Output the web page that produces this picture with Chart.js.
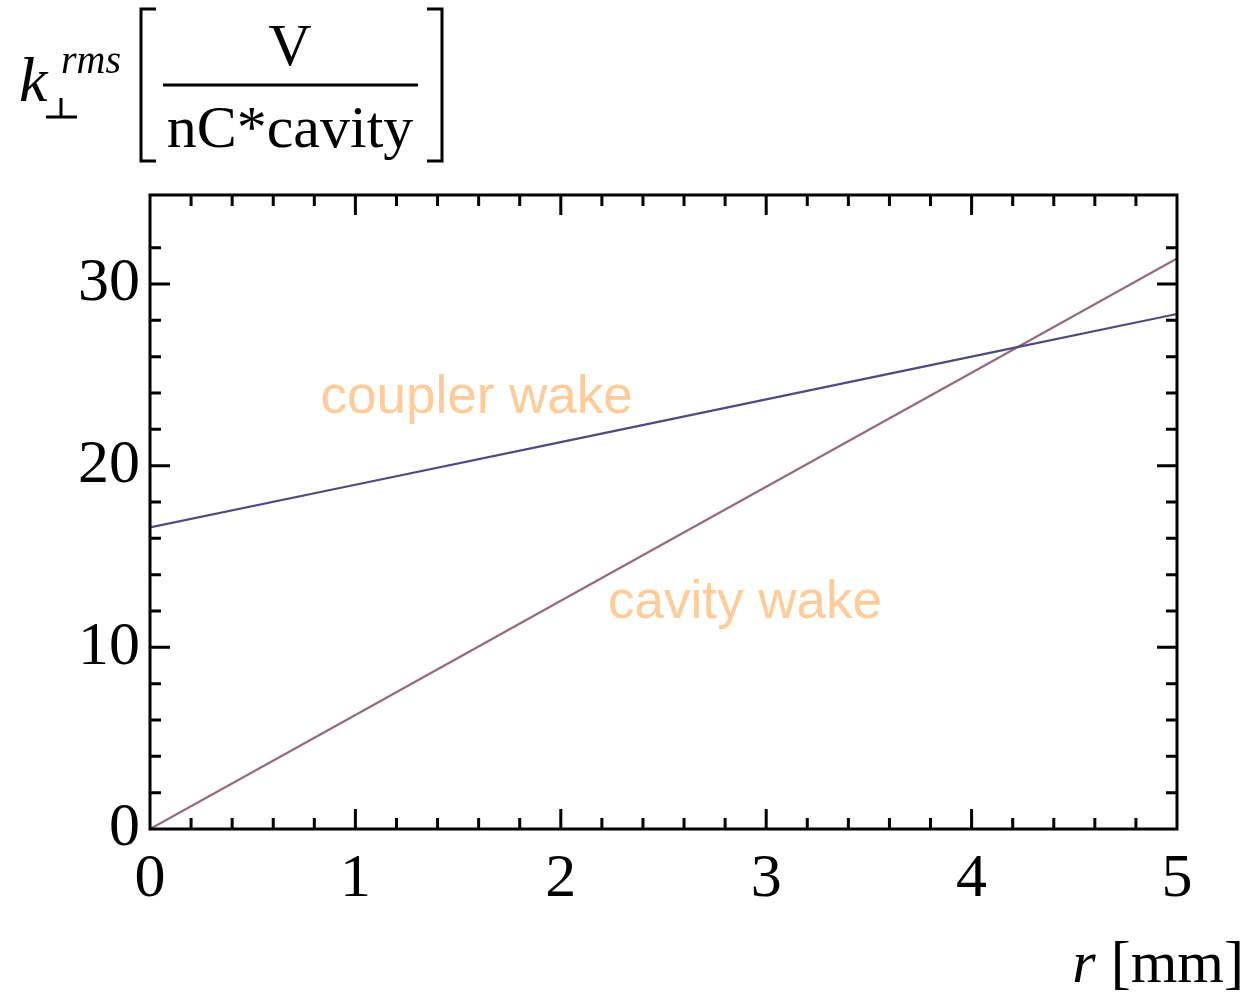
<!DOCTYPE html>
<html>
<head>
<meta charset="utf-8">
<title>Transverse kick factor</title>
<script src="https://cdn.jsdelivr.net/npm/chart.js@4.4.0/dist/chart.umd.min.js"></script>
<style>
  html, body { margin: 0; padding: 0; background: #fff; }
  #wrap { width: 1249px; height: 995px; position: relative; }
</style>
</head>
<body>
<div id="wrap"><canvas id="kickChart"></canvas></div>
<script>
// r in mm
const rValues = [0, 1, 2, 3, 4, 5];
// k_perp rms, V/(nC*cavity)
const couplerWake = [16.6, 18.95, 21.3, 23.65, 26.0, 28.35];
const cavityWake = [0, 6.28, 12.56, 18.84, 25.12, 31.4];

const xTicksMajor = [0, 1, 2, 3, 4, 5];
const yTicksMajor = [0, 10, 20, 30];

// where the curve names sit, in data units (left edge, baseline)
const couplerLabelPos = [0.83, 22.9];
const cavityLabelPos = [2.23, 11.6];

const serif = '"Liberation Serif", "Times New Roman", serif';
const sans = '"Liberation Sans", Arial, sans-serif';

const toPoints = (ys) => rValues.map((r, i) => ({ x: r, y: ys[i] }));

const isMajor = (v, list) => list.some((m) => Math.abs(m - v) < 1e-6);

// inward ticks on all four sides + frame + titles
const framePlugin = {
  id: "frame",
  afterDraw(chart) {
    const { ctx, chartArea: a, scales } = chart;
    const xs = scales.x, ys = scales.y;
    ctx.save();
    ctx.strokeStyle = "#000";
    ctx.lineWidth = 3;

    xs.ticks.forEach((t) => {
      const px = xs.getPixelForValue(t.value);
      if (px <= a.left + 1 || px >= a.right - 1) return;
      const len = isMajor(t.value, xTicksMajor) ? 20 : 11;
      ctx.beginPath();
      ctx.moveTo(px, a.bottom);
      ctx.lineTo(px, a.bottom - len);
      ctx.moveTo(px, a.top);
      ctx.lineTo(px, a.top + len);
      ctx.stroke();
    });

    ys.ticks.forEach((t) => {
      const py = ys.getPixelForValue(t.value);
      if (py <= a.top + 1 || py >= a.bottom - 1) return;
      if (Math.abs(t.value / 2 - Math.round(t.value / 2)) > 1e-6) return;
      const len = isMajor(t.value, yTicksMajor) ? 20 : 11;
      ctx.beginPath();
      ctx.moveTo(a.left, py);
      ctx.lineTo(a.left + len, py);
      ctx.moveTo(a.right, py);
      ctx.lineTo(a.right - len, py);
      ctx.stroke();
    });

    ctx.strokeRect(a.left, a.top, a.right - a.left, a.bottom - a.top);

    // curve names
    ctx.fillStyle = "rgb(255, 204, 153)";
    ctx.font = "53px " + sans;
    ctx.textBaseline = "alphabetic";
    ctx.textAlign = "left";
    ctx.fillText("coupler wake", xs.getPixelForValue(couplerLabelPos[0]), ys.getPixelForValue(couplerLabelPos[1]));
    ctx.fillText("cavity wake", xs.getPixelForValue(cavityLabelPos[0]), ys.getPixelForValue(cavityLabelPos[1]));

    // x title: r [mm]
    ctx.fillStyle = "#000";
    ctx.textAlign = "right";
    ctx.font = "60px " + serif;
    const unit = " [mm]";
    const uw = ctx.measureText(unit).width;
    ctx.fillText(unit, 1244, 982);
    ctx.font = "italic 60px " + serif;
    ctx.fillText("r", 1244 - uw, 982);

    // y title: k_perp^rms [ V / nC*cavity ]
    ctx.textAlign = "left";
    ctx.font = "italic 64px " + serif;
    ctx.fillText("k", 19, 101);
    ctx.font = "italic 40px " + serif;
    ctx.fillText("rms", 61, 73);
    ctx.lineWidth = 3;
    ctx.beginPath();
    ctx.moveTo(61, 98);
    ctx.lineTo(61, 117);
    ctx.moveTo(46, 117);
    ctx.lineTo(77, 117);
    ctx.stroke();

    // brackets
    const bracket = (x, dir) => {
      ctx.beginPath();
      ctx.moveTo(x + dir * 15, 9);
      ctx.lineTo(x, 9);
      ctx.lineTo(x, 161);
      ctx.lineTo(x + dir * 15, 161);
      ctx.stroke();
    };
    bracket(141, 1);
    bracket(442, -1);

    // fraction
    ctx.beginPath();
    ctx.moveTo(163, 85);
    ctx.lineTo(418, 85);
    ctx.stroke();
    ctx.font = "60px " + serif;
    ctx.textAlign = "center";
    ctx.fillText("V", 290, 65);
    ctx.fillText("nC*cavity", 290, 147);
    ctx.restore();
  },
};

new Chart(document.getElementById("kickChart"), {
  type: "line",
  data: {
    datasets: [
      {
        label: "coupler wake",
        data: toPoints(couplerWake),
        borderColor: "rgb(78, 74, 130)",
        borderWidth: 2.2,
        pointRadius: 0,
        tension: 0,
      },
      {
        label: "cavity wake",
        data: toPoints(cavityWake),
        borderColor: "rgb(150, 105, 128)",
        borderWidth: 2.2,
        pointRadius: 0,
        tension: 0,
      },
    ],
  },
  options: {
    responsive: true,
    maintainAspectRatio: false,
    animation: false,
    layout: { padding: { left: 0, top: 195, right: 72, bottom: 0 } },
    plugins: {
      legend: { display: false },
      tooltip: { enabled: false },
    },
    scales: {
      x: {
        type: "linear",
        min: 0,
        max: 5,
        grid: { display: false },
        border: { display: false },
        afterFit: (s) => { s.height = 166; },
        ticks: {
          stepSize: 0.2,
          autoSkip: false,
          maxRotation: 0,
          padding: 6,
          color: "#000",
          font: { family: serif, size: 62 },
          callback: (v) => (isMajor(v, xTicksMajor) ? String(Math.round(v)) : ""),
        },
      },
      y: {
        min: 0,
        max: 34.9,
        grid: { display: false },
        border: { display: false },
        afterFit: (s) => { s.width = 150; },
        ticks: {
          stepSize: 2,
          autoSkip: false,
          padding: 2,
          color: "#000",
          font: { family: serif, size: 62 },
          callback: (v) => (isMajor(v, yTicksMajor) ? String(Math.round(v)) : ""),
        },
      },
    },
  },
  plugins: [framePlugin],
});
</script>
</body>
</html>
